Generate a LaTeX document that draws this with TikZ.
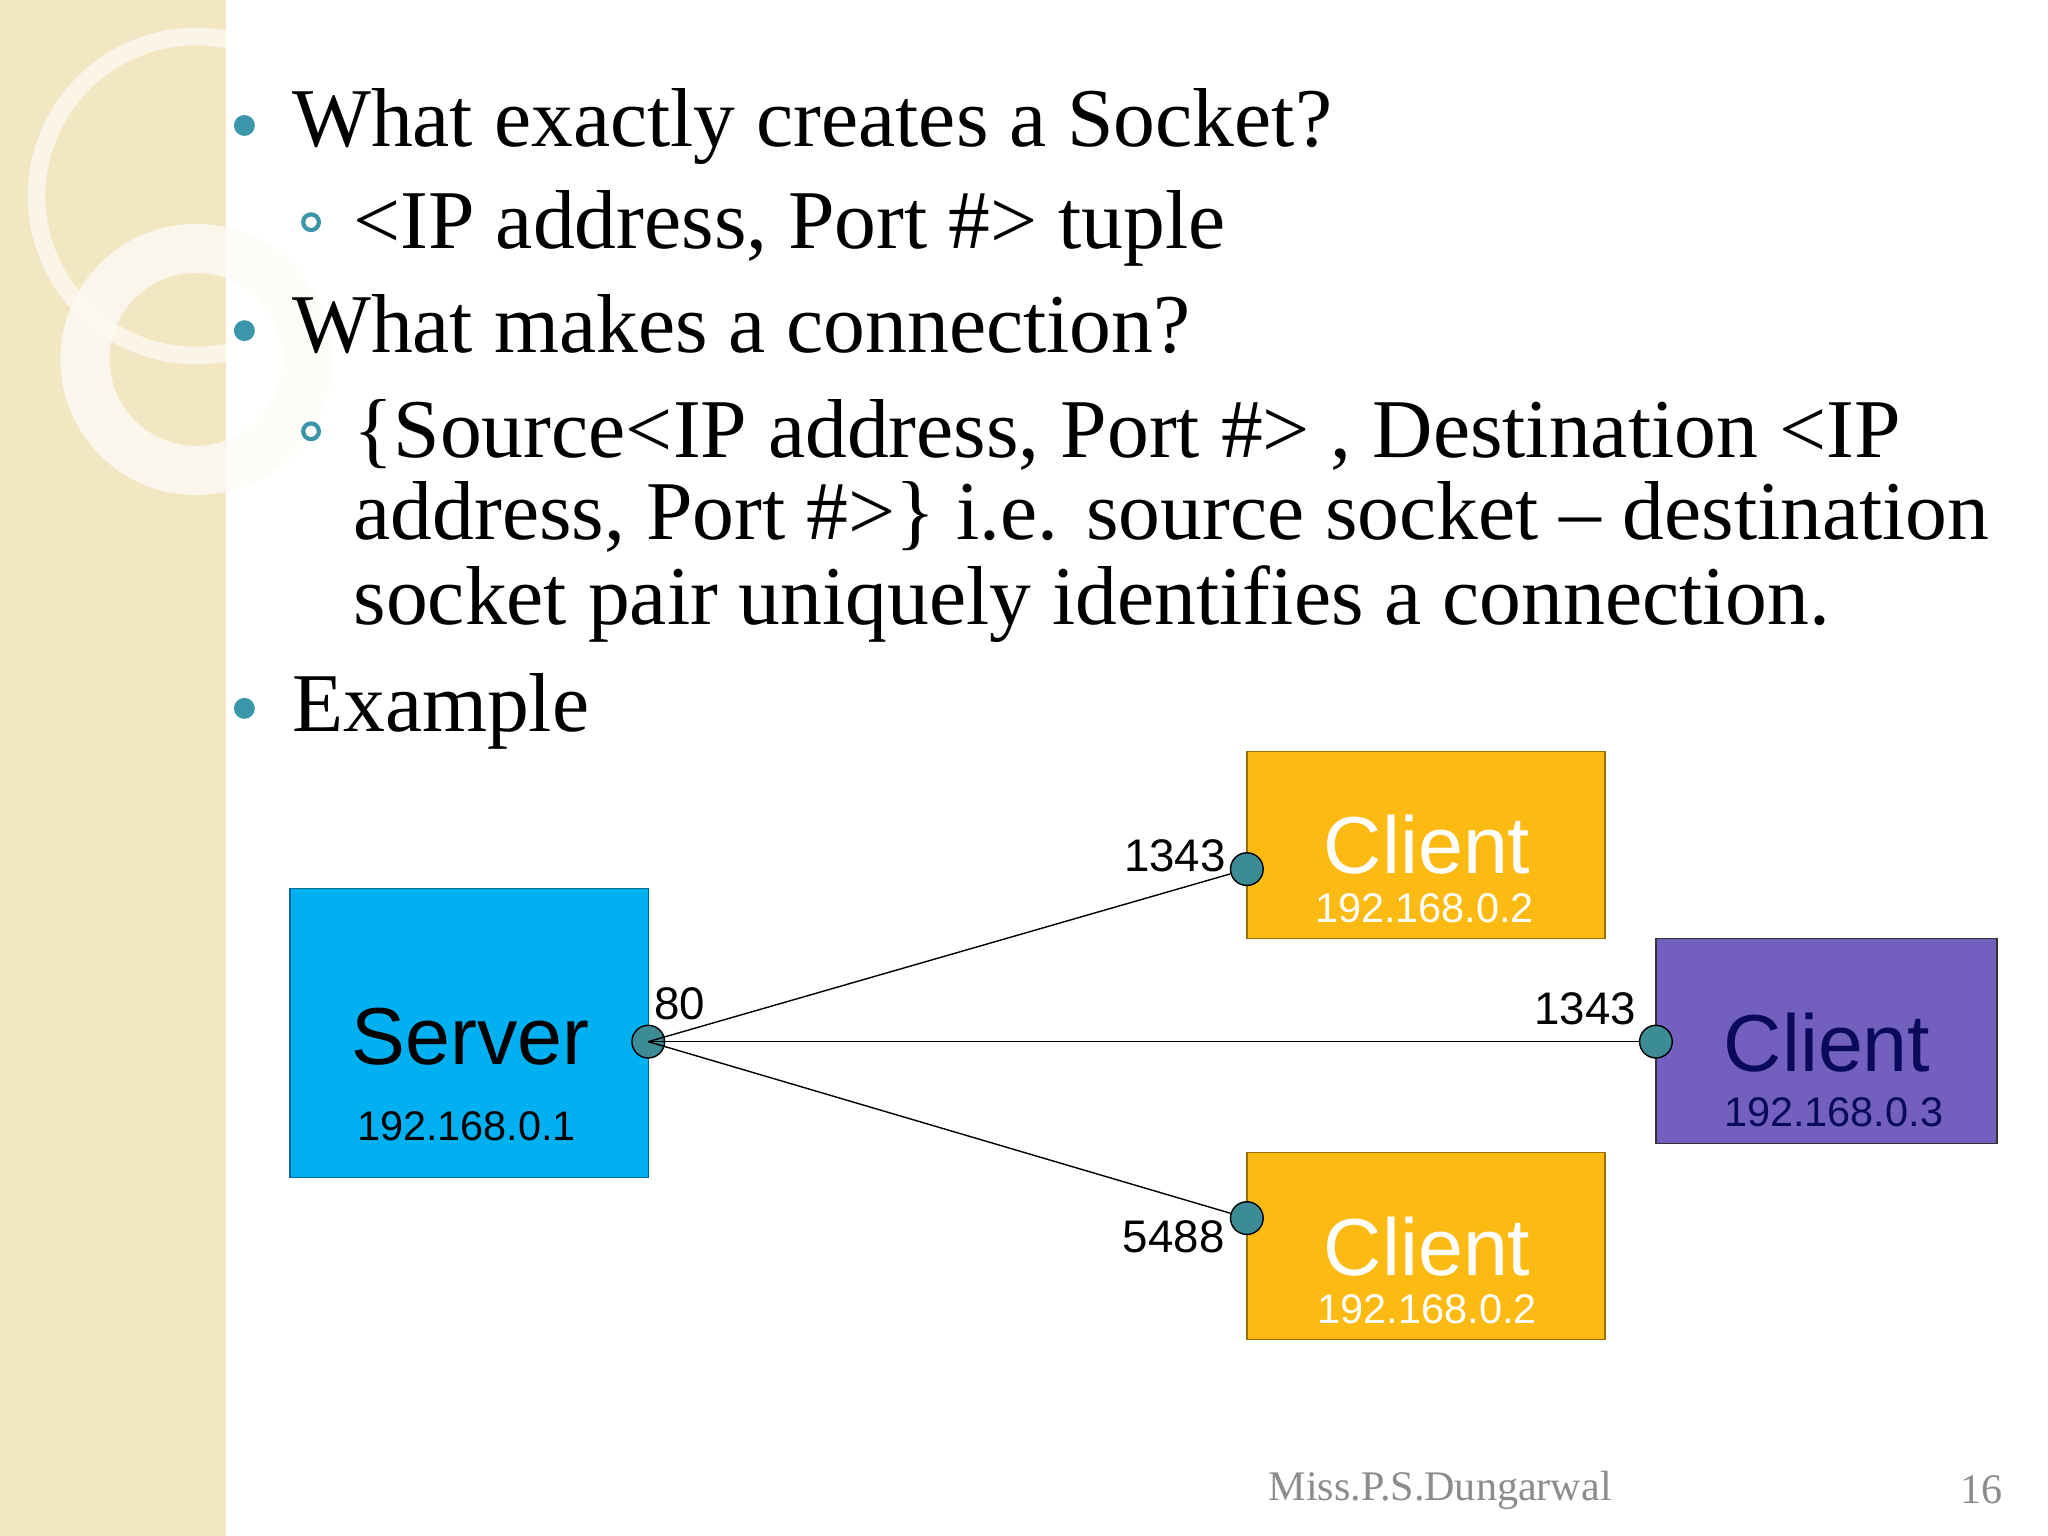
\documentclass[tikz,border=0pt]{standalone}
\usepackage{fontspec}
\setmainfont{Liberation Serif}
\newfontfamily\arial{Liberation Sans}
\newfontfamily\timesfont{Liberation Serif}
\usetikzlibrary{positioning}
\definecolor{strip}{RGB}{243,230,194}
\definecolor{bullet}{RGB}{60,150,170}
\definecolor{srvblue}{RGB}{0,176,240}
\definecolor{cliorange}{RGB}{252,186,18}
\definecolor{clipurple}{RGB}{115,96,190}
\definecolor{navy}{RGB}{10,10,90}
\definecolor{port}{RGB}{60,140,150}
\newlength{\pgfxx}\setlength{\pgfxx}{0.01307cm}
\tikzset{
  box/.style={draw=#1!60!black, minimum width=274\pgfxx, minimum height=143\pgfxx, inner sep=0pt},
  port/.style={circle, draw=black, fill=port, minimum size=25\pgfxx, inner sep=0pt},
  num/.style={font=\arial\fontsize{13}{16}\selectfont, inner sep=0pt},
  ip/.style={font=\arial\fontsize{11.8}{14}\selectfont, inner sep=0pt},
  word/.style={font=\arial\fontsize{23}{26}\selectfont, inner sep=0pt},
  big/.style={font=\fontsize{23.8}{30}\selectfont, anchor=base west, inner sep=0pt}
}
\begin{document}
\begin{tikzpicture}[x=0.01307cm, y=-0.01307cm]
  \useasboundingbox (0,0) rectangle (1567,1175);
  % left strip
  \fill[strip] (0,0) rectangle (173,1175);
  \draw[white, line width=5pt, opacity=0.6] (150,150) circle (122);
  \draw[white!85!strip, line width=14pt, opacity=0.8] (150,275) circle (85);
  % text
  \fill[bullet] (187,96) circle (8);
  \node[big] (q1) at (223,112) {What exactly creates a Socket?};
  \draw[bullet, line width=1.2pt] (238,170) circle (6);
  \node[big] (a1) at (270,190) {<IP address, Port \#> tuple};
  \fill[bullet] (187,253) circle (8);
  \node[big] (q2) at (223,270) {What makes a connection?};
  \draw[bullet, line width=1.2pt] (238,330) circle (6);
  \node[big] (a2) at (270,350) {\{Source<IP address, Port \#> , Destination <IP};
  \node[big] (a3) at (270,413) {address, Port \#>\} i.e. source socket – destination};
  \node[big] (a4) at (270,478) {socket pair uniquely identifies a connection.};
  \fill[bullet] (187,542) circle (8);
  \node[big] (ex) at (223,560) {Example};
  % boxes
  \node[box=srvblue, fill=srvblue, minimum height=221\pgfxx] (server) at (359,790.5) {};
  \node[word] at (360,793) {Server};
  \node[ip] at (357,862) {192.168.0.1};
  \node[box=cliorange, fill=cliorange] (cli1) at (1091,646.5) {};
  \node[word, text=white] at (1092,646) {Client};
  \node[ip, text=white] at (1090,695) {192.168.0.2};
  \node[box=clipurple, fill=clipurple, minimum width=261\pgfxx, minimum height=157\pgfxx, draw=black!80] (cli2) at (1397.5,796.5) {};
  \node[word, text=navy] at (1398,798) {Client};
  \node[ip, text=navy] at (1403,851) {192.168.0.3};
  \node[box=cliorange, fill=cliorange] (cli3) at (1091,953.5) {};
  \node[word, text=white] at (1092,954) {Client};
  \node[ip, text=white] at (1092,1002) {192.168.0.2};
  % ports
  \node[port] (p0) at (496,797) {};
  \node[port] (p1) at (954,665) {};
  \node[port] (p2) at (1267,797) {};
  \node[port] (p3) at (954,932) {};
  \draw (p0.center) -- (p1);
  \draw (p0.center) -- (p2);
  \draw (p0.center) -- (p3);
  \node[num] at (520,768) {80};
  \node[num] at (899,655) {1343};
  \node[num] at (1213,772) {1343};
  \node[num] at (898,946) {5488};
  % footer
  \node[font=\timesfont\fontsize{12}{14}\selectfont, text=black!45] at (1102,1140) {Miss.P.S.Dungarwal};
  \node[font=\timesfont\fontsize{12}{14}\selectfont, text=black!45] at (1516,1140) {16};
\end{tikzpicture}
\end{document}
